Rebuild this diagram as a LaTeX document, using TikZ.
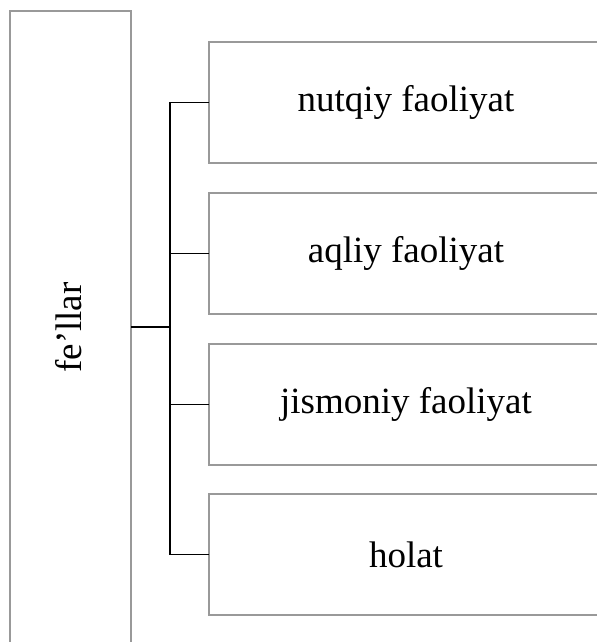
\documentclass[tikz,border=0pt]{standalone}
\usepackage{fontspec}
\setmainfont{Liberation Serif}
\begin{document}
\begin{tikzpicture}[x=0.5pt,y=-0.5pt,
  box/.style={draw=black!40, line width=0.6pt, inner sep=0pt, outer sep=0pt,
    font=\fontsize{18.5}{22}\selectfont},
  leftbox/.style={box, minimum width=60.5pt, minimum height=316pt},
  rightbox/.style={box, minimum width=197pt, minimum height=60.5pt},
  conn/.style={draw=black, line width=0.9pt},
  mainconn/.style={draw=black, line width=1.2pt}]
\useasboundingbox (0,0) rectangle (597,642);
\begin{scope}
\clip (0,0) rectangle (597,642);
\node[leftbox] (L) at (70.5,327) {};
\node[rotate=90, font=\fontsize{18.5}{22}\selectfont] (Lt) at (69,327.5) {fe’llar};
\node[rightbox] (b1) at (406,102.5) {nutqiy faoliyat};
\node[rightbox] (b2) at (406,253.5) {aqliy faoliyat};
\node[rightbox] (b3) at (406,404.5) {jismoniy faoliyat};
\node[rightbox] (b4) at (406,554.5) {holat};
\coordinate (j) at (170,327);
\draw[mainconn] (L.east) -- (j);
\draw[conn] (b1.west) -| (j);
\draw[conn] (b4.west) -| (j);
\draw[conn] (b2.west) -- (b2.west -| j);
\draw[conn] (b3.west) -- (b3.west -| j);
\end{scope}
\end{tikzpicture}
\end{document}
